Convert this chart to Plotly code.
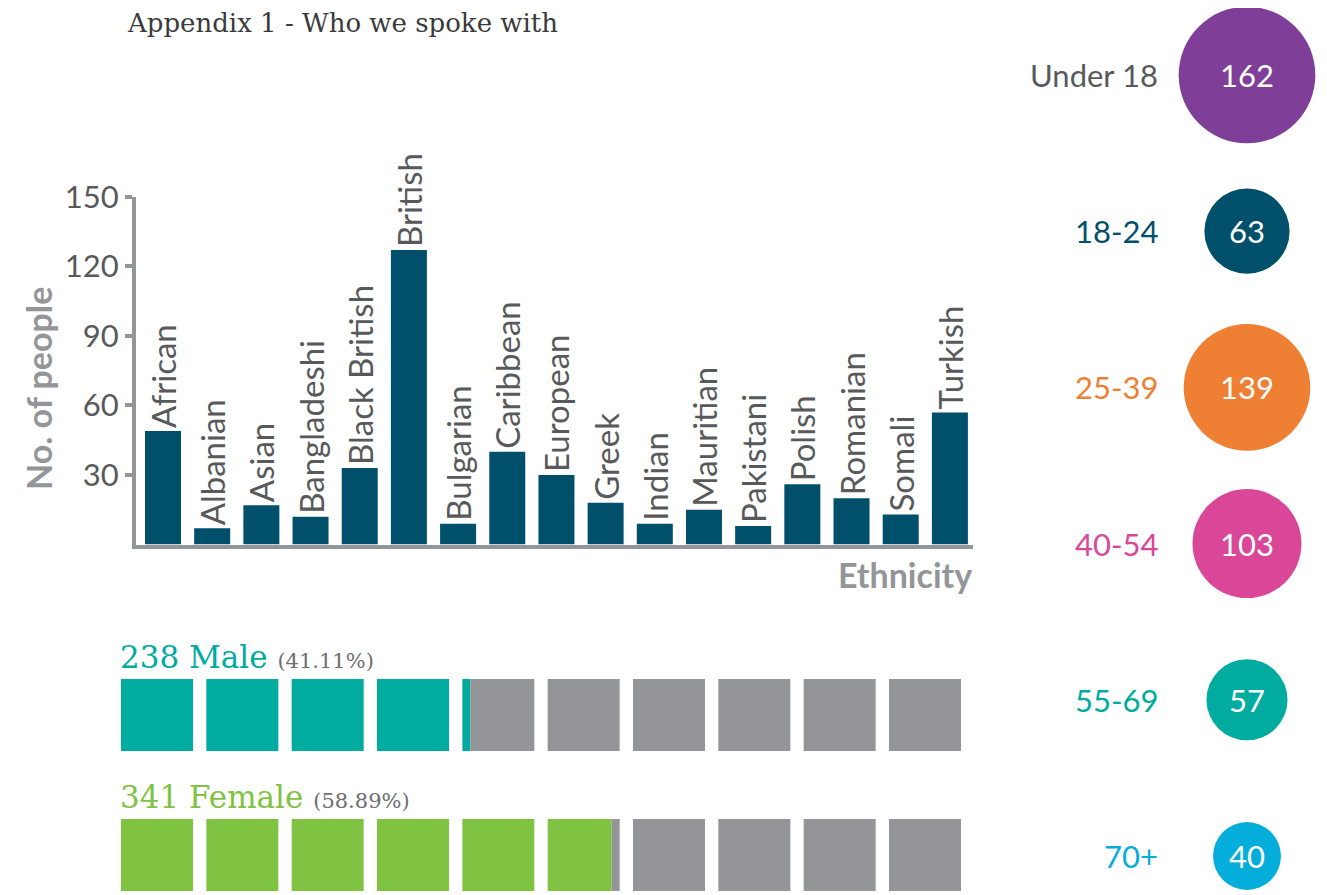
import plotly.graph_objects as go

# ---------------- data ----------------
ethnicities = ["African", "Albanian", "Asian", "Bangladeshi", "Black British", "British",
               "Bulgarian", "Caribbean", "European", "Greek", "Indian", "Mauritian",
               "Pakistani", "Polish", "Romanian", "Somali", "Turkish"]
ethnicity_counts = [49, 7, 17, 12, 33, 127, 9, 40, 30, 18, 9, 15, 8, 26, 20, 13, 57]
y_ticks = [30, 60, 90, 120, 150]

genders = ["Male", "Female"]
gender_counts = [238, 341]
gender_colors = ["#00ABA0", "#80C342"]

age_groups = ["Under 18", "18-24", "25-39", "40-54", "55-69", "70+"]
age_counts = [162, 63, 139, 103, 57, 40]
age_colors = ["#7F3F98", "#00506B", "#EE7F33", "#DA4799", "#00AB9F", "#05ADDA"]
age_label_colors = ["#58595B", "#00506B", "#EE7F33", "#DA4799", "#00AB9F", "#05ADDA"]

# ---------------- style constants ----------------
W, H = 1327, 895
OFF = 8                    # page body margin
BAR_COLOR = "#00506B"
AXIS_GREY = "#939598"
TEXT_GREY = "#58595B"
WAFFLE_GREY = "#939598"
SANS = "Lato"
SERIF = "DejaVu Serif"

def px_x(p):
    return (p - OFF) / W

def px_y(p):
    return 1 - (p - OFF) / H

fig = go.Figure()

# ---------------- ethnicity bar chart ----------------
fig.add_trace(go.Bar(
    x=list(range(len(ethnicities))), y=ethnicity_counts,
    marker=dict(color=BAR_COLOR, line=dict(width=0)),
    width=0.732,
    text=ethnicities, textposition="outside", textangle=-90,
    outsidetextfont=dict(family=SANS, size=33, color=TEXT_GREY),
    constraintext="none", cliponaxis=False, hoverinfo="skip",
    xaxis="x", yaxis="y",
))

# ---------------- gender waffle ----------------
total = sum(gender_counts)
n_squares = 10
sq = 72 / 85.33          # square size relative to pitch
row_pos = [1, 0]         # male row above female row
for g, cnt, col, ry in zip(genders, gender_counts, gender_colors, row_pos):
    frac = cnt / total * n_squares
    fills = [min(max(frac - i, 0), 1) for i in range(n_squares)]
    col_base = [i for i in range(n_squares)]
    col_len = [f * sq for f in fills]
    grey_base = [i + f * sq for i, f in enumerate(fills)]
    grey_len = [(1 - f) * sq for f in fills]
    fig.add_trace(go.Bar(orientation="h", y=[ry] * n_squares, x=col_len, base=col_base,
                         width=0.514, marker=dict(color=col, line=dict(width=0)),
                         hoverinfo="skip", xaxis="x2", yaxis="y2"))
    fig.add_trace(go.Bar(orientation="h", y=[ry] * n_squares, x=grey_len, base=grey_base,
                         width=0.514, marker=dict(color=WAFFLE_GREY, line=dict(width=0)),
                         hoverinfo="skip", xaxis="x2", yaxis="y2"))

annotations = []
for g, cnt, col, ry in zip(genders, gender_counts, gender_colors, row_pos):
    pct = cnt / total * 100
    annotations.append(dict(
        xref="x2", yref="y2", x=0, y=ry, xanchor="left", yanchor="bottom",
        yshift=38, xshift=-3, showarrow=False,
        text=(f"<span style='color:{col};font-size:31px'>{cnt} {g}</span> "
              f"<span style='color:#6D6E71;font-size:21px'>({pct:.2f}%)</span>"),
        font=dict(family=SERIF, size=31, color=col),
    ))

# ---------------- age circles ----------------
fig.add_trace(go.Scatter(
    x=[0] * len(age_groups), y=list(range(len(age_groups))),
    mode="markers",
    marker=dict(size=age_counts, sizemode="area", sizeref=2 / 115.3,
                color=age_colors, line=dict(width=0), opacity=1),
    cliponaxis=False, hoverinfo="skip", xaxis="x3", yaxis="y3",
))
for i, (lab, c, v) in enumerate(zip(age_groups, age_label_colors, age_counts)):
    annotations.append(dict(
        xref="x3", yref="y3", x=-87, y=i, xanchor="right", yanchor="middle",
        showarrow=False, text=lab, font=dict(family=SANS, size=31, color=c),
    ))
    annotations.append(dict(
        xref="x3", yref="y3", x=0, y=i, xanchor="center", yanchor="middle",
        showarrow=False, text=str(v), font=dict(family=SANS, size=31, color="white"),
    ))

# ---------------- titles ----------------
annotations.append(dict(
    xref="paper", yref="paper", x=px_x(125), y=px_y(23), xanchor="left", yanchor="middle",
    showarrow=False, text="Appendix 1 - Who we spoke with",
    font=dict(family=SERIF, size=26, color="#3A3A3A"),
))
annotations.append(dict(
    xref="paper", yref="paper", x=px_x(38), y=px_y(389), xanchor="center", yanchor="middle",
    showarrow=False, text="<b>No. of people</b>", textangle=-90,
    font=dict(family=SANS, size=34, color=AXIS_GREY),
))
annotations.append(dict(
    xref="paper", yref="paper", x=px_x(974), y=px_y(574), xanchor="right", yanchor="middle",
    showarrow=False, text="<b>Ethnicity</b>",
    font=dict(family=SANS, size=34, color=AXIS_GREY),
))

# circle axis geometry (page px): first centre at 75, pitch 156.2, centre x 1247
c0, cp = 75 - OFF, 156.2
cx = 1247 - OFF
x3_left = 1000

fig.update_layout(
    width=W, height=H, autosize=False,
    margin=dict(l=0, r=0, t=0, b=0, pad=0, autoexpand=False),
    paper_bgcolor="white", plot_bgcolor="rgba(0,0,0,0)",
    showlegend=False, barmode="overlay",
    annotations=annotations,
    xaxis=dict(domain=[px_x(136), px_x(973)], range=[-0.549, 16.47],
               showline=True, linewidth=4, linecolor=AXIS_GREY,
               showticklabels=False, ticks="", showgrid=False, zeroline=False,
               automargin=False, fixedrange=True),
    yaxis=dict(domain=[px_y(544.6), px_y(196.7)], range=[0, 150],
               tickvals=y_ticks, ticks="outside", ticklen=7, tickwidth=4,
               tickcolor=AXIS_GREY, showline=True, linewidth=4, linecolor=AXIS_GREY,
               tickfont=dict(family=SANS, size=31, color=TEXT_GREY),
               showgrid=False, zeroline=False, automargin=False, fixedrange=True),
    xaxis2=dict(domain=[px_x(121), px_x(961)], range=[0, n_squares - 1 + sq],
                visible=False, anchor="y2", automargin=False),
    yaxis2=dict(domain=[0, px_y(660)],
                range=[-(H + OFF - 855) / 140, (855 - 660) / 140],
                visible=False, anchor="x2", automargin=False),
    xaxis3=dict(domain=[x3_left / W, 1], range=[x3_left - cx, W - cx],
                visible=False, anchor="y3", automargin=False),
    yaxis3=dict(domain=[0, 1], range=[(H - c0) / cp, -c0 / cp],
                visible=False, anchor="x3", automargin=False),
)

fig.write_html("out.html")
